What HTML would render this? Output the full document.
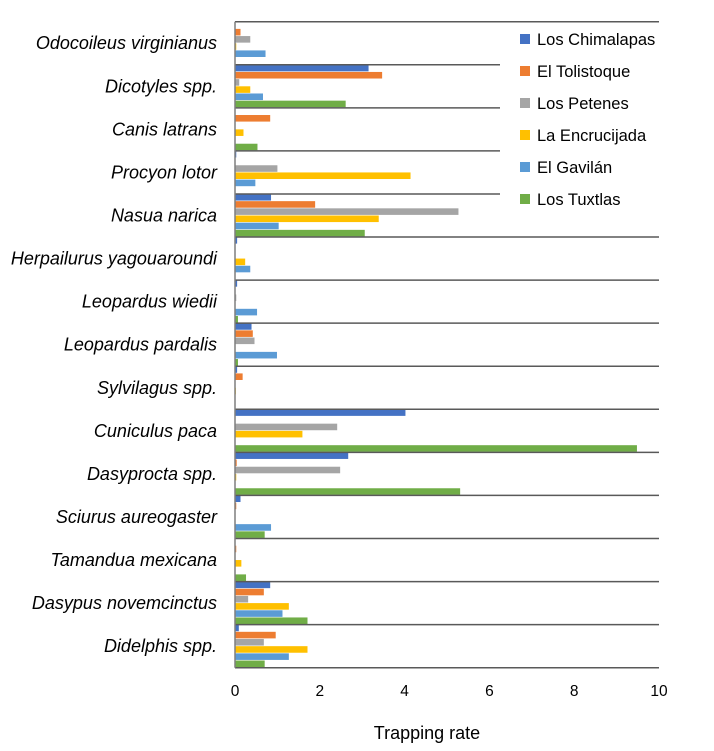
<!DOCTYPE html>
<html><head><meta charset="utf-8"><style>
body{margin:0;background:#fff;}
svg{display:block;font-family:"Liberation Sans",sans-serif;}
</style></head><body>
<svg id="c" width="714" height="751"></svg>
<script>
const categories=["Odocoileus virginianus","Dicotyles spp.","Canis latrans","Procyon lotor","Nasua narica","Herpailurus yagouaroundi","Leopardus wiedii","Leopardus pardalis","Sylvilagus spp.","Cuniculus paca","Dasyprocta spp.","Sciurus aureogaster","Tamandua mexicana","Dasypus novemcinctus","Didelphis spp."];
const seriesNames=["Los Chimalapas","El Tolistoque","Los Petenes","La Encrucijada","El Gavilán","Los Tuxtlas"];
const seriesColors=["#4472c4","#ed7d31","#a5a5a5","#ffc000","#5b9bd5","#70ad47"];
const chimalapas=[0,3.15,0,0.03,0.85,0.05,0.05,0.39,0.05,4.02,2.67,0.13,0,0.83,0.09];
const tolistoque=[0.13,3.47,0.83,0,1.89,0,0,0.42,0.18,0,0.04,0.03,0.03,0.68,0.96];
const petenes=[0.36,0.1,0,1.0,5.27,0,0.03,0.46,0,2.41,2.48,0,0,0.31,0.68];
const encrucijada=[0.03,0.36,0.2,4.14,3.39,0.24,0,0,0.02,1.59,0.03,0,0.15,1.27,1.71];
const gavilan=[0.72,0.66,0,0.48,1.03,0.36,0.52,0.99,0,0,0,0.85,0,1.12,1.27];
const tuxtlas=[0,2.61,0.53,0,3.06,0,0.07,0.07,0,9.48,5.31,0.7,0.26,1.71,0.7];
const xTicks=[0,2,4,6,8,10];
const series=[chimalapas,tolistoque,petenes,encrucijada,gavilan,tuxtlas];
const NS="http://www.w3.org/2000/svg";
const svg=document.getElementById('c');
const X0=235,X1=659,Y0=21.7,Y1=667.7;
const x=v=>X0+(X1-X0)*v/10;
const band=(Y1-Y0)/categories.length;
const y=i=>Y0+band*i;
function el(t,a){const e=document.createElementNS(NS,t);for(const k in a)e.setAttribute(k,a[k]);svg.appendChild(e);return e;}
const bh=band/6;
series.forEach((s,si)=>{s.forEach((v,ci)=>{if(v<=0)return;
const r=el('rect',{x:X0,y:y(ci)+si*bh,width:x(v)-X0,height:bh-0.6,fill:seriesColors[si]});

});});
for(let i=0;i<=categories.length;i++){
const l=el('line',{x1:X0,x2:X1,y1:y(i),y2:y(i),stroke:'#595959','stroke-width':1.5});

}
const ax=el('line',{x1:X0,x2:X0,y1:Y0,y2:Y1,stroke:'#7f7f7f','stroke-width':1.5});


categories.forEach((c,i)=>{const t=el('text',{x:217,y:y(i)+band/2+6,'text-anchor':'end','font-size':18,'font-style':'italic',fill:'#000'});t.textContent=c;

});
xTicks.forEach(v=>{const t=el('text',{x:x(v),y:696,'text-anchor':'middle','font-size':15.5,fill:'#000'});t.textContent=v;

});
const at=el('text',{x:427,y:739,'text-anchor':'middle','font-size':18,fill:'#000'});at.textContent='Trapping rate';


const lb=el('rect',{x:500,y:24,width:162,height:190,fill:'#fff'});


seriesNames.forEach((n,i)=>{const yy=40+i*32;
const sw=el('rect',{x:520,y:yy-6,width:10,height:10,fill:seriesColors[i]});


const t=el('text',{x:537,y:yy+5,'font-size':16.5,fill:'#000'});t.textContent=n;

});
</script>
</body></html>
